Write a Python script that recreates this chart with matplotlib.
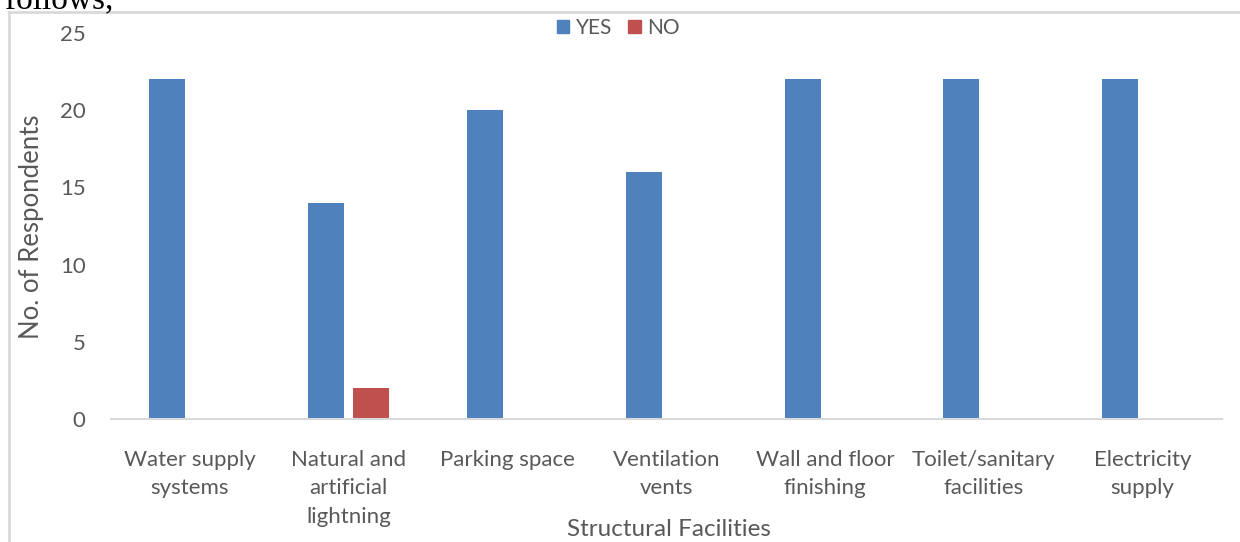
import matplotlib

matplotlib.use("Agg")
import matplotlib.pyplot as plt  # noqa: E402
import numpy as np  # noqa: E402
from matplotlib.lines import Line2D  # noqa: E402
from matplotlib.patches import Patch  # noqa: E402

CATEGORIES = [
    "Water supply\nsystems",
    "Natural and\nartificial\nlightning",
    "Parking space",
    "Ventilation\nvents",
    "Wall and floor\nfinishing",
    "Toilet/sanitary\nfacilities",
    "Electricity\nsupply",
]
YES = [22, 14, 20, 16, 22, 22, 22]
NO = [0, 2, 0, 0, 0, 0, 0]
Y_TICKS = [0, 5, 10, 15, 20, 25]

BLUE = "#4F81BD"
RED = "#C0504D"
TEXT = "#595959"
GRID = "#D9D9D9"

plt.rcParams["font.family"] = ["Lato", "DejaVu Sans"]

W, H = 1240, 542
fig = plt.figure(figsize=(W / 100, H / 100), dpi=100)

# plot area in pixel coordinates
x0, x1 = 110.6, 1222
y_top, y_base = 33, 419
ax = fig.add_axes([x0 / W, 1 - y_base / H, (x1 - x0) / W, (y_base - y_top) / H])

x = np.arange(len(CATEGORIES))
width = 0.227
off = 0.142
ax.bar(x - off, YES, width, color=BLUE, label="YES")
nz = [i for i, v in enumerate(NO) if v]
ax.bar(x[nz] + off, [NO[i] for i in nz], width, color=RED, label="NO")

ax.set_xlim(-0.5, len(CATEGORIES) - 0.5)
ax.set_ylim(0, 25)
ax.set_yticks(Y_TICKS)
ax.set_yticklabels([str(t) for t in Y_TICKS], fontsize=16, color=TEXT)
ax.set_xticks(x)
ax.set_xticklabels(CATEGORIES, fontsize=16, color=TEXT, linespacing=1.55, va="top")
ax.tick_params(length=0)
ax.tick_params(axis="y", pad=18)
ax.tick_params(axis="x", pad=22)
for s in ("top", "right", "left"):
    ax.spines[s].set_visible(False)
ax.spines["bottom"].set_color(GRID)
ax.spines["bottom"].set_linewidth(1.5)

fig.text(32 / W, 1 - 227 / H, "No. of Respondents", rotation=90, ha="center",
         va="center", fontsize=18.5, color=TEXT)
fig.text(669 / W, 1 - 529 / H, "Structural Facilities", ha="center", va="center",
         fontsize=17.5, color=TEXT)

handles = [Patch(color=BLUE, label="YES"), Patch(color=RED, label="NO")]
fig.legend(handles=handles, loc="center", bbox_to_anchor=(618 / W, 1 - 28 / H),
           ncol=2, frameon=False, fontsize=15, labelcolor=TEXT, handlelength=0.62,
           handleheight=0.62, handletextpad=0.3, columnspacing=0.75)

# chart border (clipped at the right and bottom)
fig.add_artist(Line2D([9 / W, 9 / W], [0, 1 - 12 / H], color=GRID, lw=2))
fig.add_artist(Line2D([9 / W, 1], [1 - 12 / H, 1 - 12 / H], color=GRID, lw=2))

# preceding line of document text, cut off at the top
fig.text(5 / W, 1 - 0 / H, "follows,", ha="left", va="center", fontsize=24,
         family="Liberation Serif", color="black")

fig.savefig("out.png", dpi=100)
